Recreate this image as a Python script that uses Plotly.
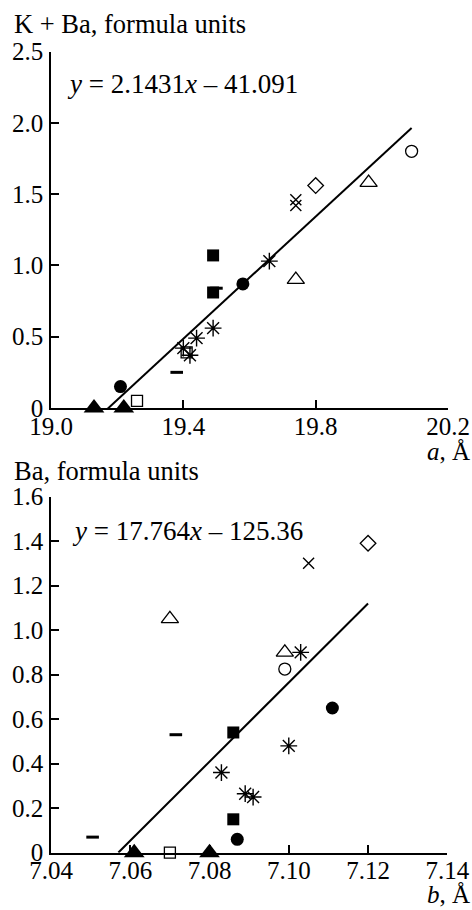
import plotly.graph_objects as go

# ---------------- data: top panel (a, K + Ba) ----------------
a_filled_tri_x = [19.13, 19.22]
a_filled_tri_y = [0.0, 0.0]
a_filled_circ_x = [19.21, 19.58]
a_filled_circ_y = [0.15, 0.87]
a_open_sq_x = [19.26, 19.41]
a_open_sq_y = [0.05, 0.39]
a_filled_sq_x = [19.49, 19.49]
a_filled_sq_y = [1.07, 0.81]
a_dash_x = [19.38, 19.50]
a_dash_y = [0.25, 0.84]
a_star_x = [19.40, 19.42, 19.44, 19.49, 19.66]
a_star_y = [0.42, 0.37, 0.49, 0.56, 1.03]
a_open_tri_x = [19.74, 19.96]
a_open_tri_y = [0.90, 1.58]
a_cross_x = [19.74, 19.74]
a_cross_y = [1.46, 1.42]
a_diamond_x = [19.80]
a_diamond_y = [1.56]
a_open_circ_x = [20.09]
a_open_circ_y = [1.80]
a_fit_slope, a_fit_icpt = 2.1431, -41.091
a_fit_x = [19.17, 20.09]
a_xticks = [19.0, 19.4, 19.8, 20.2]
a_xticklabels = ["19.0", "19.4", "19.8", "20.2"]
a_yticks = [0, 0.5, 1.0, 1.5, 2.0, 2.5]
a_yticklabels = ["0", "0.5", "1.0", "1.5", "2.0", "2.5"]

# ---------------- data: bottom panel (b, Ba) ----------------
b_filled_tri_x = [7.061, 7.080]
b_filled_tri_y = [0.0, 0.0]
b_open_sq_x = [7.070]
b_open_sq_y = [0.0]
b_dash_x = [7.0505, 7.0715]
b_dash_y = [0.07, 0.53]
b_filled_sq_x = [7.086, 7.086]
b_filled_sq_y = [0.54, 0.15]
b_filled_circ_x = [7.087, 7.111]
b_filled_circ_y = [0.06, 0.65]
b_star_x = [7.083, 7.089, 7.091, 7.100, 7.103]
b_star_y = [0.36, 0.265, 0.25, 0.48, 0.90]
b_open_tri_x = [7.070, 7.099]
b_open_tri_y = [1.05, 0.90]
b_open_circ_x = [7.099]
b_open_circ_y = [0.825]
b_cross_x = [7.105]
b_cross_y = [1.30]
b_diamond_x = [7.120]
b_diamond_y = [1.39]
b_fit_slope, b_fit_icpt = 17.764, -125.36
b_fit_x = [7.057, 7.120]
b_xticks = [7.04, 7.06, 7.08, 7.10, 7.12, 7.14]
b_xticklabels = ["7.04", "7.06", "7.08", "7.10", "7.12", "7.14"]
b_yticks = [0, 0.2, 0.4, 0.6, 0.8, 1.0, 1.2, 1.4, 1.6]
b_yticklabels = ["0", "0.2", "0.4", "0.6", "0.8", "1.0", "1.2", "1.4", "1.6"]

W, H = 472, 910
ML, MR = 51, 24
FONT = "Liberation Serif"

fig = go.Figure()

def add_markers(x, y, symbol, size, xa, ya, lw=1.3):
    fig.add_trace(go.Scatter(
        x=x, y=y, mode="markers", xaxis=xa, yaxis=ya, cliponaxis=False,
        marker=dict(symbol=symbol, size=size, color="black",
                    line=dict(color="black", width=lw)),
        showlegend=False, hoverinfo="skip"))

def add_panel(p, xa, ya):
    slope, icpt, fx = p["fit"]
    fig.add_trace(go.Scatter(
        x=fx, y=[slope * v + icpt for v in fx], mode="lines",
        xaxis=xa, yaxis=ya, line=dict(color="black", width=2),
        showlegend=False, hoverinfo="skip", cliponaxis=False))
    add_markers(*p["filled_tri"], "triangle-up", 18, xa, ya, 0)
    add_markers(*p["filled_circ"], "circle", 13, xa, ya, 0)
    add_markers(*p["filled_sq"], "square", 12, xa, ya, 0)
    add_markers(*p["open_sq"], "square-open", 11, xa, ya)
    add_markers(*p["dash"], "line-ew-open", 9, xa, ya, 3)
    add_markers(*p["star"], "asterisk-open", 14, xa, ya, 1.4)
    add_markers(*p["open_tri"], "triangle-up-open", 15, xa, ya)
    add_markers(*p["cross"], "x-thin-open", 11, xa, ya, 1.4)
    add_markers(*p["diamond"], "diamond-open", 12, xa, ya)
    add_markers(*p["open_circ"], "circle-open", 12, xa, ya)

add_panel(dict(
    fit=(a_fit_slope, a_fit_icpt, a_fit_x),
    filled_tri=(a_filled_tri_x, a_filled_tri_y),
    filled_circ=(a_filled_circ_x, a_filled_circ_y),
    filled_sq=(a_filled_sq_x, a_filled_sq_y),
    open_sq=(a_open_sq_x, a_open_sq_y),
    dash=(a_dash_x, a_dash_y),
    star=(a_star_x, a_star_y),
    open_tri=(a_open_tri_x, a_open_tri_y),
    cross=(a_cross_x, a_cross_y),
    diamond=(a_diamond_x, a_diamond_y),
    open_circ=(a_open_circ_x, a_open_circ_y)), "x", "y")

add_panel(dict(
    fit=(b_fit_slope, b_fit_icpt, b_fit_x),
    filled_tri=(b_filled_tri_x, b_filled_tri_y),
    filled_circ=(b_filled_circ_x, b_filled_circ_y),
    filled_sq=(b_filled_sq_x, b_filled_sq_y),
    open_sq=(b_open_sq_x, b_open_sq_y),
    dash=(b_dash_x, b_dash_y),
    star=(b_star_x, b_star_y),
    open_tri=(b_open_tri_x, b_open_tri_y),
    cross=(b_cross_x, b_cross_y),
    diamond=(b_diamond_x, b_diamond_y),
    open_circ=(b_open_circ_x, b_open_circ_y)), "x2", "y2")

def py(p):
    return 1 - p / H

def px(p):
    return (p - ML) / (W - ML - MR)

axis_common = dict(showline=True, linecolor="black", linewidth=1.5, mirror=False,
                   ticks="inside", ticklen=8, tickwidth=1.5, tickcolor="black",
                   showgrid=False, zeroline=False, automargin=False,
                   tickfont=dict(family=FONT, size=25, color="black"))

fig.update_layout(
    width=W, height=H, margin=dict(l=ML, r=MR, t=0, b=0, autoexpand=False),
    paper_bgcolor="white", plot_bgcolor="white",
    font=dict(family=FONT, color="black"),
    xaxis=dict(domain=[0, 1], range=[19.0, 20.2], tickmode="array",
               tickvals=a_xticks, ticktext=a_xticklabels, anchor="y",
               ticklabelstandoff=-5, **axis_common),
    yaxis=dict(domain=[py(408), py(51.5)], range=[0, 2.5], tickmode="array",
               tickvals=a_yticks, ticktext=a_yticklabels, anchor="x",
               ticklabelstandoff=1, **axis_common),
    xaxis2=dict(domain=[0, (447.3 - ML) / (W - ML - MR)], range=[7.04, 7.14], tickmode="array",
                tickvals=b_xticks, ticktext=b_xticklabels, anchor="y2",
                ticklabelstandoff=-5, **axis_common),
    yaxis2=dict(domain=[py(852.7), py(496.5)], range=[0, 1.6], tickmode="array",
                tickvals=b_yticks, ticktext=b_yticklabels, anchor="x2",
                ticklabelstandoff=1, **axis_common),
)

def ann(text, x, y, size, xanchor="left", yanchor="middle"):
    fig.add_annotation(text=text, x=px(x), y=py(y), xref="paper", yref="paper",
                       xanchor=xanchor, yanchor=yanchor, showarrow=False,
                       font=dict(family=FONT, size=size, color="black"))

ann("K + Ba, formula units", 12, 24, 26.5)
ann("<i>y</i> = 2.1431<i>x</i> – 41.091", 65, 84, 27)
ann("<i>a</i>, Å", 472, 451, 25, xanchor="right")
ann("Ba, formula units", 12, 471, 26.5)
ann("<i>y</i> = 17.764<i>x</i> – 125.36", 70, 531, 27)
ann("<i>b</i>, Å", 472, 910, 25, xanchor="right", yanchor="bottom")

fig.write_html("out.html")
